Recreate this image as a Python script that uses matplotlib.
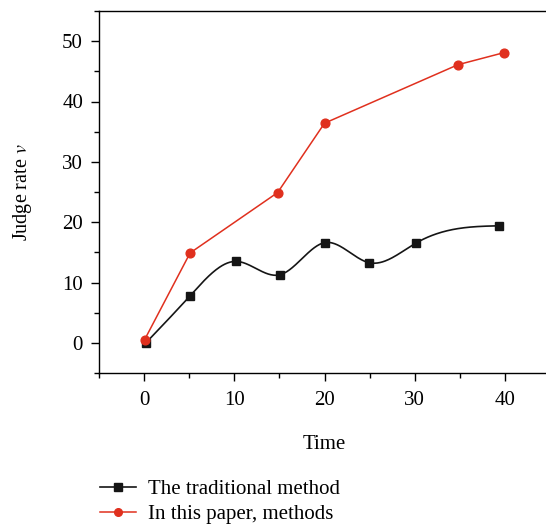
import numpy as np
import matplotlib
matplotlib.use("Agg")
import matplotlib.pyplot as plt

plt.rcParams['font.family'] = ['Liberation Serif', 'DejaVu Serif']
plt.rcParams['mathtext.fontset'] = 'stix'

# data
trad_x = [0.2, 5.1, 10.2, 15.1, 20.0, 24.9, 30.1, 39.4]
trad_y = [0.0, 7.8, 13.5, 11.3, 16.6, 13.3, 16.5, 19.4]
paper_x = [0.05, 5.1, 14.8, 20.0, 34.8, 39.9]
paper_y = [0.5, 14.9, 24.9, 36.4, 46.1, 48.1]


def natural_spline(x, y, n=400):
    # natural cubic spline, only used to draw the smooth connecting line
    x = np.asarray(x, float)
    y = np.asarray(y, float)
    k = len(x)
    h = np.diff(x)
    A = np.zeros((k, k))
    b = np.zeros(k)
    A[0, 0] = A[-1, -1] = 1
    for i in range(1, k - 1):
        A[i, i - 1] = h[i - 1]
        A[i, i] = 2 * (h[i - 1] + h[i])
        A[i, i + 1] = h[i]
        b[i] = 6 * ((y[i + 1] - y[i]) / h[i] - (y[i] - y[i - 1]) / h[i - 1])
    M = np.linalg.solve(A, b)
    xs = np.linspace(x[0], x[-1], n)
    idx = np.clip(np.searchsorted(x, xs) - 1, 0, k - 2)
    x0, x1 = x[idx], x[idx + 1]
    hh = x1 - x0
    t0 = x1 - xs
    t1 = xs - x0
    ys = (M[idx] * t0 ** 3 / (6 * hh) + M[idx + 1] * t1 ** 3 / (6 * hh)
          + (y[idx] / hh - M[idx] * hh / 6) * t0
          + (y[idx + 1] / hh - M[idx + 1] * hh / 6) * t1)
    return xs, ys


fig = plt.figure(figsize=(5.46, 5.29), dpi=100)
ax = fig.add_axes([99 / 546, 1 - 373 / 529, 451 / 546, 362 / 529])

sx, sy = natural_spline(trad_x, trad_y)
black = '#151515'
red = '#e0301e'
ax.plot(sx, sy, color=black, lw=1.2)
ax.plot(trad_x, trad_y, 's', color=black, ms=6.3, zorder=3)
ax.plot(paper_x, paper_y, '-o', color=red, lw=1.1, ms=6.3, zorder=4)

ax.set_xlim(-5, 45)
ax.set_ylim(-5, 55)
ax.set_xticks([0, 10, 20, 30, 40])
ax.set_xticks([-5, 5, 15, 25, 35, 45], minor=True)
ax.set_yticks([0, 10, 20, 30, 40, 50])
ax.set_yticks([-5, 5, 15, 25, 35, 45, 55], minor=True)
ax.tick_params(which='major', direction='out', length=6, width=1, labelsize=15)
ax.tick_params(which='minor', direction='out', length=3.5, width=1)
ax.tick_params(axis='x', which='major', pad=7)
ax.tick_params(axis='y', which='major', pad=5.5)
for s in ax.spines.values():
    s.set_linewidth(1)
ax.spines['right'].set_visible(False)

ax.set_xlabel('Time', fontsize=15, labelpad=18)
ax.set_ylabel('Judge rate $v$', fontsize=14.5, labelpad=20)

h1, = ax.plot([], [], '-s', color=black, lw=1.2, ms=5.5)
h2, = ax.plot([], [], '-o', color=red, lw=1.1, ms=5.5)
fig.legend([h1, h2], ['The traditional method', 'In this paper, methods'],
           loc='upper left', bbox_to_anchor=(85 / 546, 1 - 465 / 529),
           frameon=False, fontsize=15, handlelength=1.75,
           handletextpad=0.55, labelspacing=0.25, borderpad=0.2)

fig.savefig('out.png', dpi=100)
